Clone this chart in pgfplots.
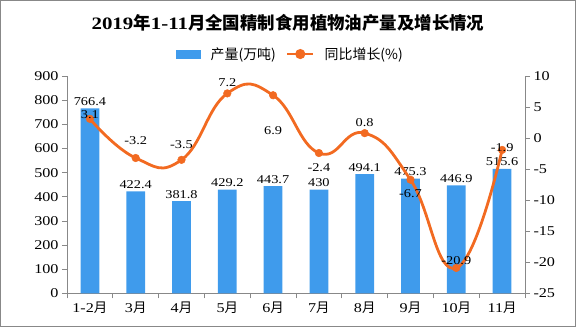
\documentclass[border=0pt]{standalone}
\usepackage{pgfplots}
\pgfplotsset{compat=1.18}
\usepackage{fontspec}
\setmainfont{Liberation Serif}[FakeStretch=1.2]
\newfontfamily\cjk{Noto Sans CJK SC}
\newcommand\C[1]{{\cjk #1}}
\definecolor{barblue}{HTML}{3F9BEC}
\definecolor{lineorange}{HTML}{F26A21}
\definecolor{axgray}{HTML}{888888}
\pgfplotstableread{
x y dy
0 3.1 4
1 -3.2 17
2 -3.5 15
3 7.2 11
4 6.9 -36
5 -2.4 -15
6 0.8 11
7 -6.7 -14
8 -20.9 7
9 -1.9 2
}\growth
\begin{document}
\begin{tikzpicture}
\useasboundingbox (-67bp,-33.6bp) rectangle (509bp,293.4bp);
\draw[axgray, line width=0.8bp] (-66.6bp,-33.2bp) rectangle (508.6bp,293bp);
\node[font=\fontsize{17.5}{20}\selectfont\bfseries] at (221bp,271bp) {2019\C{年}1-11\C{月全国精制食用植物油产量及增长情况}};
\begin{axis}[
 at={(0,0)}, anchor=south west, scale only axis, width=458bp, height=217.4bp,
 xmin=-0.5, xmax=9.5, ymin=0, ymax=900,
 axis y line*=left, axis x line*=bottom,
 axis line style={axgray, line width=0.8bp},
 xtick={0,...,9},
 xticklabels={1-2\C{月},3\C{月},4\C{月},5\C{月},6\C{月},7\C{月},8\C{月},9\C{月},10\C{月},11\C{月}},
 minor xtick={-0.5,0.5,...,9.5},
 major x tick style={draw=none},
 minor x tick style={axgray, line width=0.8bp},
 ytick={0,100,...,900},
 y tick style={axgray, line width=0.8bp},
 tick align=outside, major tick length=5bp, minor tick length=5bp,
 tick label style={font=\fontsize{13.5}{15}\selectfont, black},
 /pgf/number format/assume math mode=true,
 clip=false,
]
\addplot[ybar, bar width=0.41, fill=barblue, draw=none,
  nodes near coords,
  nodes near coords style={font=\fontsize{12}{14}\selectfont, black, anchor=south, inner sep=2.5bp}]
  coordinates {(0,766.4) (1,422.4) (2,381.8) (3,429.2) (4,443.7) (5,430) (6,494.1) (7,475.3) (8,446.9) (9,515.6)};
\end{axis}
\begin{axis}[
 at={(0,0)}, anchor=south west, scale only axis, width=458bp, height=217.4bp,
 xmin=-0.5, xmax=9.5, ymin=-25, ymax=10,
 axis y line*=right, axis x line=none,
 axis line style={axgray, line width=0.8bp},
 ytick={-25,-20,...,10},
 y tick style={axgray, line width=0.8bp},
 tick align=outside, major tick length=5bp,
 tick label style={font=\fontsize{13.5}{15}\selectfont, black},
 /pgf/number format/assume math mode=true,
 clip=false,
 legend columns=2,
 legend style={at={(0.488,1.101)}, anchor=center, draw=none, fill=none,
   font=\fontsize{14}{16}\selectfont, column sep=8bp},
]
\addlegendimage{legend image code/.code={\fill[barblue] (0bp,-4bp) rectangle (24bp,4bp);}}
\addlegendentry{\C{产量(万吨)}}
\addplot[lineorange, line width=2.8bp, smooth, tension=0.8, mark=*, mark size=3.8bp,
  mark options={fill=lineorange, draw=lineorange, line width=0.5bp},
  legend image code/.code={\draw[lineorange, line width=2.8bp] (0bp,0bp) -- (26bp,0bp); \fill[lineorange] (13bp,0bp) circle (3.6bp);},
  visualization depends on={\thisrow{dy} \as \dy},
  nodes near coords,
  nodes near coords style={font=\fontsize{12}{14}\selectfont, black, anchor=center, yshift=\dy pt}]
  table[x=x, y=y] {\growth};
\addlegendentry{\C{同比增长(\%)}}
\end{axis}
\end{tikzpicture}
\end{document}
